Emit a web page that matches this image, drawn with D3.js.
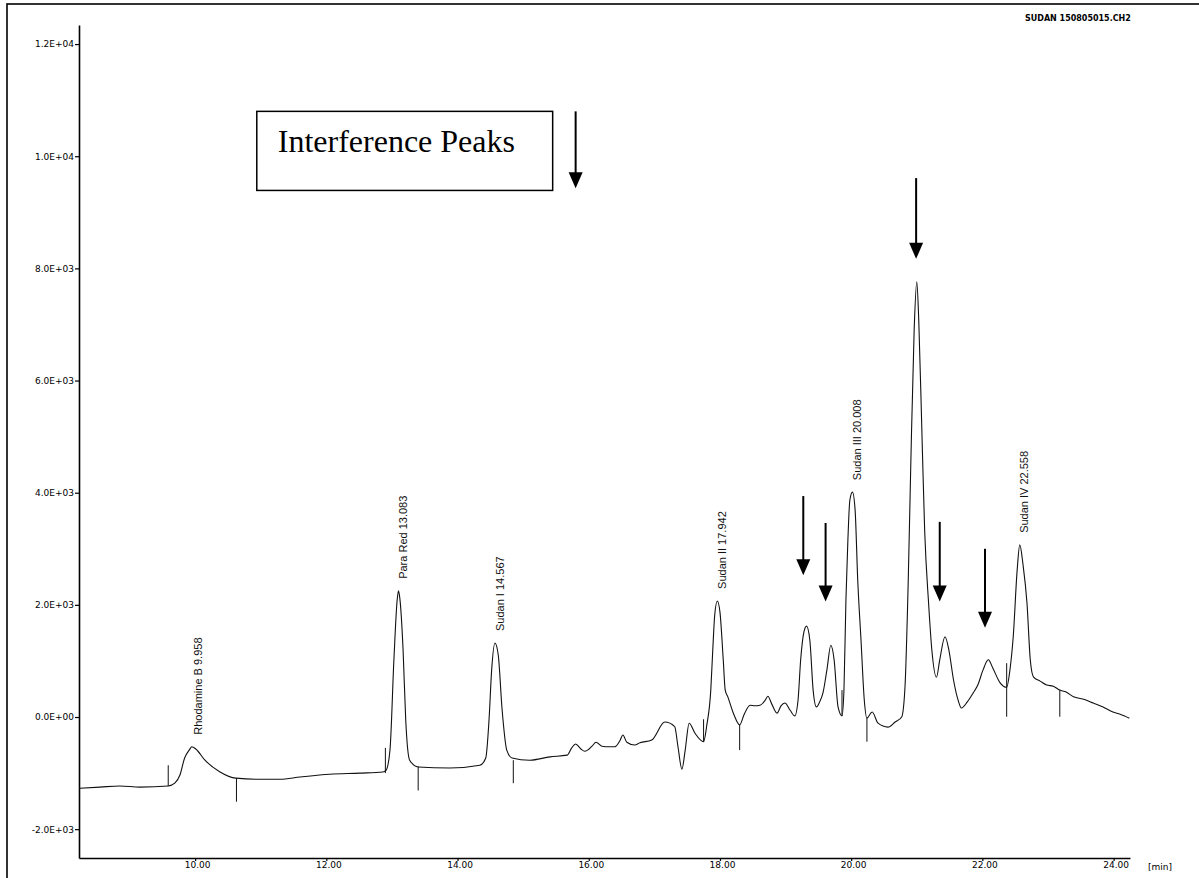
<!DOCTYPE html>
<html>
<head>
<meta charset="utf-8">
<script src="https://cdn.jsdelivr.net/npm/d3@7"></script>
<style>
  body { margin: 0; background: #fff; }
  svg { display: block; }
</style>
</head>
<body>
<svg id="chromatogram" width="1199" height="878"></svg>
<script>
// detector trace, [time (min), signal]
const tracePoints = [
  [8.23, -1270], [8.55, -1250], [8.85, -1230], [9.16, -1250], [9.59, -1230],
  [9.69, -1180], [9.77, -1030], [9.84, -730], [9.91, -590], [9.95, -530],
  [10.01, -570], [10.15, -770], [10.38, -980], [10.62, -1090], [10.99, -1110],
  [11.29, -1110], [11.60, -1070], [12.05, -1020], [12.51, -1000], [12.86, -980],
  [12.91, -950], [12.97, -590], [13.03, 1020], [13.08, 2090], [13.10, 2250],
  [13.12, 2120], [13.17, 1190], [13.21, -50], [13.27, -770], [13.40, -890],
  [13.88, -910], [14.34, -860], [14.43, -730], [14.48, -50], [14.52, 840],
  [14.57, 1320], [14.62, 1110], [14.68, 120], [14.75, -590], [14.83, -730],
  [15.10, -770], [15.41, -710], [15.67, -680], [15.74, -550], [15.80, -480],
  [15.88, -570], [15.94, -610], [16.05, -520], [16.11, -450], [16.20, -520],
  [16.32, -530], [16.40, -530], [16.48, -410], [16.52, -320], [16.58, -450],
  [16.70, -500], [16.78, -460], [16.96, -410], [17.16, -90], [17.31, -170],
  [17.36, -530], [17.42, -930], [17.47, -590], [17.53, -110], [17.62, -290],
  [17.75, -440], [17.80, -140], [17.86, 480], [17.89, 1190], [17.92, 1820],
  [17.96, 2070], [18.00, 1870], [18.05, 1020], [18.08, 480], [18.12, 360],
  [18.21, 50], [18.30, -140], [18.37, 50], [18.46, 210], [18.53, 200],
  [18.61, 210], [18.69, 300], [18.73, 370], [18.79, 230], [18.87, 70],
  [18.93, 200], [18.99, 250], [19.07, 120], [19.14, 20], [19.19, 300],
  [19.23, 1020], [19.28, 1520], [19.32, 1620], [19.37, 1370], [19.42, 480],
  [19.47, 180], [19.52, 270], [19.57, 430], [19.63, 840], [19.69, 1280],
  [19.74, 1020], [19.80, 180], [19.86, 20], [19.89, 480], [19.92, 2090],
  [19.95, 3160], [19.98, 3870], [20.02, 4010], [20.06, 3690], [20.10, 2440],
  [20.15, 1370], [20.20, 300], [20.24, -20], [20.32, 90], [20.41, -110],
  [20.56, -180], [20.67, -90], [20.77, 0], [20.82, 530], [20.87, 2440],
  [20.91, 4580], [20.96, 6900], [21.00, 7760], [21.03, 7080], [21.08, 4990],
  [21.12, 3330], [21.18, 2030], [21.23, 1190], [21.30, 710], [21.35, 1020],
  [21.43, 1430], [21.49, 1190], [21.56, 660], [21.63, 300], [21.68, 160],
  [21.77, 270], [21.86, 430], [21.93, 570], [22.01, 840], [22.09, 1020],
  [22.16, 870], [22.27, 610], [22.37, 530], [22.42, 840], [22.47, 1430],
  [22.53, 2620], [22.57, 3070], [22.62, 2710], [22.68, 2030], [22.73, 1020],
  [22.78, 710], [22.88, 640], [22.98, 570], [23.08, 550], [23.18, 480],
  [23.27, 450], [23.39, 360], [23.53, 320], [23.69, 250], [23.84, 180],
  [23.99, 90], [24.10, 50], [24.24, -20]
];

// named peaks
const peakNames = ["Rhodamine B", "Para Red", "Sudan I", "Sudan II", "Sudan III", "Sudan IV"];
const peakTimes = [9.958, 13.083, 14.567, 17.942, 20.008, 22.558];
const peakHeights = [-530, 2250, 1320, 2070, 4010, 3070];

// integration marks: time, signal from, signal to
const markTimes = [9.59, 10.63, 12.90, 13.40, 14.85, 17.75, 18.30, 19.86, 20.24, 22.37, 23.18];
const markFrom = [-1230, -1090, -1000, -880, -770, -440, -140, 20, -20, 5, 480];
const markTo = [-860, -1510, -550, -1310, -1180, -40, -590, 480, -440, 960, 5];

// interference arrows: time, signal at tail, signal at tip
const arrowTimes = [15.80, 19.27, 19.61, 20.99, 21.35, 22.04];
const arrowTails = [10800, 3940, 3460, 9610, 3480, 3000];
const arrowTips = [9430, 2530, 2060, 8170, 2060, 1590];

const xTicks = [10, 12, 14, 16, 18, 20, 22, 24];
const yTicks = [-2000, 0, 2000, 4000, 6000, 8000, 10000, 12000];

const fileName = "SUDAN 150805015.CH2";
const noteText = "Interference Peaks";

const svg = d3.select('#chromatogram');
const margin = { left: 79, right: 69, top: 25, bottom: 20 };
const W = 1199, H = 878;

const x = d3.scaleLinear().domain([8.23, 24.25]).range([margin.left, W - margin.right]);
const y = d3.scaleLinear().domain([-2514, 12340]).range([H - margin.bottom, margin.top]);

// outer frame
svg.append('rect')
  .attr('x', 7).attr('y', 4)
  .attr('width', W + 20).attr('height', H + 20)
  .attr('fill', 'none').attr('stroke', '#000').attr('stroke-width', 1.6);

svg.append('text')
  .attr('x', 1025).attr('y', 21)
  .attr('font-family', 'DejaVu Sans, sans-serif')
  .attr('font-size', 8)
  .attr('font-weight', 'bold')
  .text(fileName);

const expFmt = v => {
  const s = v.toExponential(1).toUpperCase();
  return s.replace(/E([+-])(\d)$/, 'E$10$2');
};

const xAxis = d3.axisBottom(x)
  .tickValues(xTicks)
  .tickFormat(d3.format('.2f'))
  .tickSizeInner(3)
  .tickSizeOuter(0)
  .tickPadding(1);

const yAxis = d3.axisLeft(y)
  .tickValues(yTicks)
  .tickFormat(expFmt)
  .tickSizeInner(4)
  .tickSizeOuter(0)
  .tickPadding(1);

const xAxisG = svg.append('g')
  .attr('transform', `translate(0,${H - margin.bottom})`)
  .call(xAxis);

const yAxisG = svg.append('g')
  .attr('transform', `translate(${margin.left},0)`)
  .call(yAxis);

[xAxisG, yAxisG].forEach(g => {
  g.attr('font-family', 'DejaVu Sans, sans-serif').attr('font-size', 9);
  g.select('.domain').attr('stroke-width', 1.6);
  g.selectAll('.tick line').attr('stroke-width', 1.2);
});
xAxisG.selectAll('.tick text').attr('dx', 2);

svg.append('text')
  .attr('x', 1148).attr('y', 870)
  .attr('font-family', 'DejaVu Sans, sans-serif')
  .attr('font-size', 9)
  .text('[min]');

// trace
const line = d3.line()
  .curve(d3.curveMonotoneX)
  .x(d => x(d[0]))
  .y(d => y(d[1]));

svg.append('path')
  .datum(tracePoints)
  .attr('d', line)
  .attr('fill', 'none')
  .attr('stroke', '#111')
  .attr('stroke-width', 1.1)
  .attr('stroke-linejoin', 'round');

// integration marks
svg.append('g').selectAll('line')
  .data(markTimes)
  .join('line')
  .attr('x1', d => x(d)).attr('x2', d => x(d))
  .attr('y1', (d, i) => y(markFrom[i]))
  .attr('y2', (d, i) => y(markTo[i]))
  .attr('stroke', '#111')
  .attr('stroke-width', 1);

// peak labels
svg.append('g').selectAll('text')
  .data(peakNames)
  .join('text')
  .attr('transform', (d, i) => `translate(${x(peakTimes[i]) + 9.5},${y(peakHeights[i]) - 12}) rotate(-90)`)
  .attr('font-family', 'Liberation Sans, Arial, sans-serif')
  .attr('font-size', 11)
  .attr('fill', '#111')
  .text((d, i) => `${d} ${d3.format('.3f')(peakTimes[i])}`);

// note box
const boxG = svg.append('g');
boxG.append('rect')
  .attr('x', x(10.94)).attr('y', y(10800))
  .attr('width', x(15.45) - x(10.94))
  .attr('height', y(9390) - y(10800))
  .attr('fill', '#fff').attr('stroke', '#000').attr('stroke-width', 1.5);
boxG.append('text')
  .attr('x', x(10.94) + 21).attr('y', y(10800) + 41)
  .attr('font-family', 'Liberation Serif, Times New Roman, serif')
  .attr('font-size', 32)
  .text(noteText);

// arrows
const headLen = 16, headHalf = 7;
const arrows = svg.append('g').selectAll('g')
  .data(arrowTimes)
  .join('g');

arrows.append('line')
  .attr('x1', d => x(d)).attr('x2', d => x(d))
  .attr('y1', (d, i) => y(arrowTails[i]))
  .attr('y2', (d, i) => y(arrowTips[i]) - headLen + 2)
  .attr('stroke', '#000')
  .attr('stroke-width', 2);

arrows.append('path')
  .attr('d', (d, i) => {
    const ax = x(d), ty = y(arrowTips[i]);
    return `M${ax - headHalf},${ty - headLen}L${ax + headHalf},${ty - headLen}L${ax},${ty}Z`;
  })
  .attr('fill', '#000');
</script>
</body>
</html>
